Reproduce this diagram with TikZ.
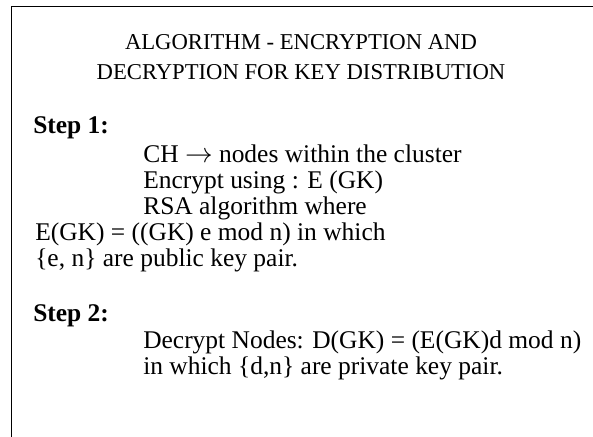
\documentclass[tikz,border=0pt]{standalone}
\usepackage{fontspec}
\setmainfont{Liberation Serif}

\begin{document}
\begin{tikzpicture}[x=0.75pt, y=-0.75pt]

        \useasboundingbox (0, 0) rectangle (593, 436);

        % frame (right and bottom edges run off the page)
        \draw [line width = 1.1pt] (11.5, 445) -- (11.5, 6.5) -- (605, 6.5);

        % heading
        \node [anchor = base] (t1) at (301, 49) {\fontsize{17}{20}\selectfont ALGORITHM - ENCRYPTION AND};
        \node [anchor = base] (t2) at (301, 79) {\fontsize{17}{20}\selectfont DECRYPTION FOR KEY DISTRIBUTION};

        % Step 1
        \node [anchor = base west, inner sep = 0pt] (s1) at (33, 133) {\fontsize{19.1}{22}\selectfont\bfseries Step 1:};
        \node [anchor = base west, inner sep = 0pt] (a1) at (143, 162) {\fontsize{19.1}{22}\selectfont CH $\rightarrow$ nodes within the cluster};
        \node [anchor = base west, inner sep = 0pt] (a2) at (143, 188) {\fontsize{19.1}{22}\selectfont Encrypt using : E (GK)};
        \node [anchor = base west, inner sep = 0pt] (a3) at (143, 214) {\fontsize{19.1}{22}\selectfont RSA algorithm where};
        \node [anchor = base west, inner sep = 0pt] (a4) at (35, 240) {\fontsize{19.1}{22}\selectfont E(GK) = ((GK) e mod n) in which};
        \node [anchor = base west, inner sep = 0pt] (a5) at (35, 266) {\fontsize{19.1}{22}\selectfont \{e, n\} are public key pair.};

        % Step 2
        \node [anchor = base west, inner sep = 0pt] (s2) at (33, 321) {\fontsize{19.1}{22}\selectfont\bfseries Step 2:};
        \node [anchor = base west, inner sep = 0pt] (b1) at (143, 348) {\fontsize{19.1}{22}\selectfont Decrypt Nodes: D(GK) = (E(GK)d mod n)};
        \node [anchor = base west, inner sep = 0pt] (b2) at (143, 374) {\fontsize{19.1}{22}\selectfont in which \{d,n\} are private key pair.};

\end{tikzpicture}
\end{document}
